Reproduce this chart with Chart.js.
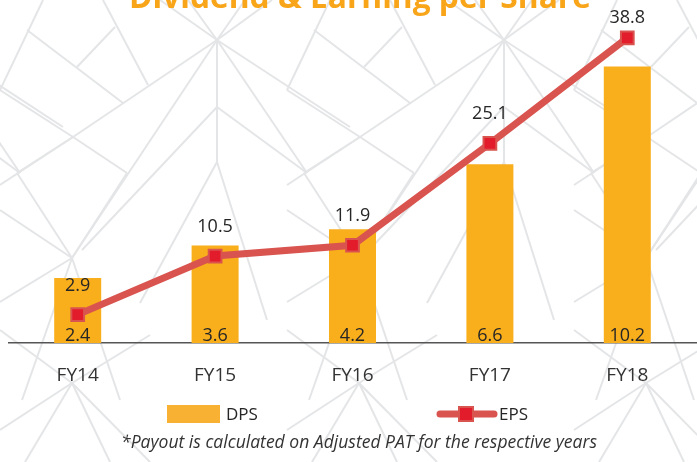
<!DOCTYPE html>
<html>
<head>
<meta charset="utf-8">
<script src="https://cdn.jsdelivr.net/npm/chart.js@4"></script>
<style>
  html, body { margin: 0; padding: 0; background: #fff; }
  #wrap { position: relative; width: 697px; height: 462px; }
</style>
</head>
<body>
<div id="wrap"><canvas id="chart" width="697" height="462"></canvas></div>
<script>
// Dividend & earning per share data
const years = ['FY14', 'FY15', 'FY16', 'FY17', 'FY18'];
const dps = [2.4, 3.6, 4.2, 6.6, 10.2];
const eps = [2.9, 10.5, 11.9, 25.1, 38.8];

const ORANGE = '#F9AE1B';
const LINE_RED = '#D9534F';
const MARK_RED = '#E31C2B';
const TEXT = '#262626';

// Light background ornament, one tile repeated across the width
const TILE = 287;
const patternSegs = [
  [217, 40, 160, 0], [217, 40, 188, 0], [217, 40, 245, 0], [217, 40, 272, 0],
  [217, 40, 73, 137], [73, 137, 0, 185],
  [217, 40, 72, 258],
  [217, 40, 217, 162],
  [217, 40, 350, 127],
  [217, 40, 307, 173],
  [217, 107, 82, 250],
  [217, 107, 307, 173],
  [217, 162, 140, 303], [217, 162, 267, 320],
  [27, 30, 123, 103], [43, 0, 0, 90], [77, 67, 115, 27], [103, 0, 148, 85],
  [0, 90, 73, 137], [73, 137, 127, 173], [17, 173, 73, 137],
  [72, 258, 17, 173], [72, 258, 0, 210], [72, 258, 0, 302], [72, 258, 127, 173],
  [72, 258, 22, 400], [72, 258, 120, 400],
  [72, 383, 0, 330], [72, 383, 0, 430], [72, 383, 25, 462], [72, 383, 110, 462],
  [72, 383, 150, 462], [72, 383, 150, 335]
];

const backgroundPattern = {
  id: 'backgroundPattern',
  beforeDraw(chart) {
    const ctx = chart.ctx;
    ctx.save();
    ctx.strokeStyle = '#E4E5E7';
    ctx.lineWidth = 2;
    [-TILE, 0, TILE, 2 * TILE].forEach(off => {
      patternSegs.forEach(s => {
        ctx.beginPath();
        ctx.moveTo(s[0] + off, s[1]);
        ctx.lineTo(s[2] + off, s[3]);
        ctx.stroke();
      });
    });
    ctx.restore();
  }
};

// Title, value labels, legend and footnote
const decorations = {
  id: 'decorations',
  afterDraw(chart) {
    const ctx = chart.ctx;
    ctx.save();

    // title (cut off at the top, as in the source)
    ctx.fillStyle = '#F9A51A';
    ctx.font = 'bold 32px "Open Sans"';
    ctx.textAlign = 'center';
    ctx.textBaseline = 'alphabetic';
    ctx.fillText('Dividend & Earning per Share', 360, 8, 462);

    // value labels
    ctx.fillStyle = TEXT;
    ctx.font = '18px "Open Sans"';
    const lineMeta = chart.getDatasetMeta(0);
    lineMeta.data.forEach((pt, i) => {
      const y = Math.max(pt.y - 24, chart.chartArea.top - 7);
      ctx.fillText(eps[i].toFixed(1), pt.x, y);
    });
    const barMeta = chart.getDatasetMeta(1);
    barMeta.data.forEach((bar, i) => {
      ctx.fillText(dps[i].toFixed(1), bar.x, bar.base - 2);
    });

    // legend
    ctx.fillStyle = '#F8B133';
    ctx.fillRect(167, 405, 53, 18);
    ctx.fillStyle = TEXT;
    ctx.font = '17px "Open Sans"';
    ctx.textAlign = 'left';
    ctx.textBaseline = 'middle';
    ctx.fillText('DPS', 226, 415);

    ctx.strokeStyle = LINE_RED;
    ctx.lineWidth = 7;
    ctx.lineCap = 'round';
    ctx.beginPath();
    ctx.moveTo(440, 414);
    ctx.lineTo(494, 414);
    ctx.stroke();
    ctx.fillStyle = MARK_RED;
    ctx.lineWidth = 2;
    ctx.fillRect(459, 407, 14, 14);
    ctx.strokeRect(459, 407, 14, 14);
    ctx.fillStyle = TEXT;
    ctx.fillText('EPS', 499, 415);

    // footnote
    ctx.font = 'italic 18px "Open Sans"';
    ctx.textAlign = 'center';
    ctx.textBaseline = 'alphabetic';
    ctx.fillStyle = '#333';
    ctx.fillText('*Payout is calculated on Adjusted PAT for the respective years', 359, 448, 476);

    ctx.restore();
  }
};

new Chart(document.getElementById('chart'), {
  data: {
    labels: years,
    datasets: [
      {
        type: 'line',
        label: 'EPS',
        data: eps,
        yAxisID: 'yEps',
        borderColor: LINE_RED,
        borderWidth: 7,
        tension: 0,
        fill: false,
        pointStyle: 'rect',
        pointRadius: 9,
        pointBackgroundColor: MARK_RED,
        pointBorderColor: LINE_RED,
        pointBorderWidth: 2,
        clip: false,
        order: 1
      },
      {
        type: 'bar',
        label: 'DPS',
        data: dps,
        yAxisID: 'yDps',
        backgroundColor: ORANGE,
        barPercentage: 0.342,
        categoryPercentage: 1,
        order: 2
      }
    ]
  },
  options: {
    responsive: false,
    animation: false,
    layout: {
      autoPadding: false,
      padding: { top: 30, left: 9, right: 1, bottom: 0 }
    },
    plugins: {
      legend: { display: false },
      tooltip: { enabled: false }
    },
    scales: {
      x: {
        grid: { display: false },
        border: { display: true, color: '#555', width: 1.5 },
        ticks: {
          color: '#333',
          font: { family: 'Open Sans', size: 19 },
          padding: 13
        },
        afterFit(scale) {
          scale.height = 119;
          scale.paddingLeft = 0;
          scale.paddingRight = 0;
        }
      },
      yDps: {
        display: false,
        min: 0,
        max: 11.55
      },
      yEps: {
        display: false,
        min: -0.78,
        max: 39.82
      }
    }
  },
  plugins: [backgroundPattern, decorations]
});
</script>
</body>
</html>
